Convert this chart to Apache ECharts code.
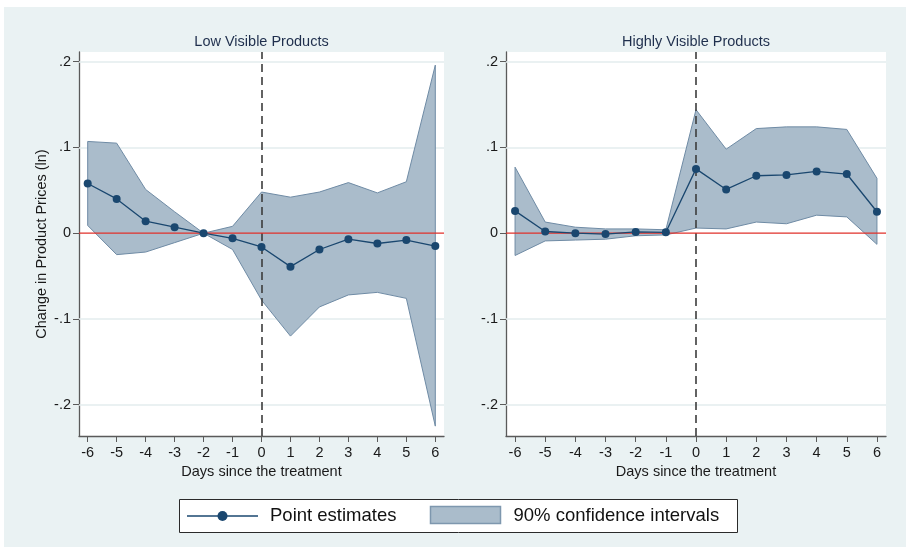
<!DOCTYPE html>
<html>
<head>
<meta charset="utf-8">
<script src="https://cdn.jsdelivr.net/npm/echarts@6/dist/echarts.min.js"></script>
<style>
  html, body { margin: 0; padding: 0; background: #ffffff; }
  #chart { width: 906px; height: 547px; }
</style>
</head>
<body>
<div id="chart"></div>
<script>
// Event-study estimates by day relative to treatment
const days = [-6, -5, -4, -3, -2, -1, 0, 1, 2, 3, 4, 5, 6];

// Low visible products
const lowEst   = [0.058, 0.040, 0.014, 0.007, 0.000, -0.006, -0.016, -0.039, -0.019, -0.007, -0.012, -0.008, -0.015];
const lowUpper = [0.107, 0.105, 0.051, 0.025, 0.000, 0.008, 0.048, 0.042, 0.048, 0.059, 0.047, 0.060, 0.196];
const lowLower = [0.009, -0.025, -0.022, -0.011, 0.000, -0.019, -0.078, -0.120, -0.086, -0.072, -0.069, -0.076, -0.225];

// Highly visible products
const highEst   = [0.026, 0.002, 0.000, -0.001, 0.0015, 0.001, 0.075, 0.051, 0.067, 0.068, 0.072, 0.069, 0.025];
const highUpper = [0.077, 0.013, 0.007, 0.005, 0.005, 0.004, 0.144, 0.098, 0.122, 0.124, 0.124, 0.121, 0.064];
const highLower = [-0.026, -0.009, -0.008, -0.007, -0.003, -0.002, 0.006, 0.005, 0.013, 0.011, 0.021, 0.019, -0.013];

// Axis ticks and ranges
const yTicks = [-0.2, -0.1, 0, 0.1, 0.2];
const xTicks = days;
const xRange = [-6.3, 6.3];
const yRange = [-0.2365, 0.2113];
const panelTitles = ['Low Visible Products', 'Highly Visible Products'];
const xTitle = 'Days since the treatment';
const yTitle = 'Change in Product Prices (ln)';
const legendLabels = ['Point estimates', '90% confidence intervals'];

const FONT = '"Liberation Sans", Arial, sans-serif';
const NAVY = '#1a476f';
const AXIS = '#5a5a5a';

function fmtY(v) {
  if (Math.abs(v) < 1e-9) return '0';
  return (v < 0 ? '-' : '') + Math.abs(v).toFixed(1).replace(/^0/, '');
}

const grids = [
  { left: 79, top: 52, width: 365, height: 384 },
  { left: 506, top: 52, width: 380, height: 384 }
];

function xAxisFor(i) {
  return {
    type: 'value', gridIndex: i, min: xRange[0], max: xRange[1],
    axisLine: { show: true, onZero: false, lineStyle: { color: AXIS, width: 1.3 } },
    axisTick: { show: true, customValues: xTicks, length: 6, lineStyle: { color: AXIS, width: 1 } },
    axisLabel: { customValues: xTicks, margin: 9, fontSize: 14.5, color: '#1a1a1a', fontFamily: FONT,
                 formatter: v => String(v) },
    splitLine: { show: false },
    name: xTitle, nameLocation: 'middle', nameGap: 23,
    nameTextStyle: { fontSize: 14.5, color: '#1a1a1a', fontFamily: FONT }
  };
}

function yAxisFor(i) {
  const ax = {
    type: 'value', gridIndex: i, min: yRange[0], max: yRange[1],
    axisLine: { show: true, onZero: false, lineStyle: { color: AXIS, width: 1.3 } },
    axisTick: { show: true, customValues: yTicks, length: 6, lineStyle: { color: AXIS, width: 1 } },
    axisLabel: { customValues: yTicks, margin: 8, fontSize: 14.5, color: '#1a1a1a', fontFamily: FONT,
                 formatter: fmtY },
    splitLine: { show: false }
  };
  if (i === 0) {
    ax.name = yTitle;
    ax.nameLocation = 'middle';
    ax.nameGap = 30;
    ax.nameTextStyle = { fontSize: 14.5, color: '#1a1a1a', fontFamily: FONT };
  }
  return ax;
}

function refLine(i, z, data, lineStyle) {
  return {
    type: 'line', xAxisIndex: i, yAxisIndex: i, data: [], z: z, silent: true,
    markLine: {
      z: z, silent: true, symbol: ['none', 'none'], label: { show: false }, animation: false,
      lineStyle: lineStyle, emphasis: { disabled: true },
      data: data
    }
  };
}

// Light horizontal grid lines, red zero line and dashed treatment line
function guideSeries(i) {
  return [
    refLine(i, 1, yTicks.filter(v => v !== 0).map(v => ({ yAxis: v })),
            { color: '#e3ecee', width: 1.5, type: 'solid' }),
    {
      type: 'line', xAxisIndex: i, yAxisIndex: i, z: 3, silent: true,
      data: xRange.map(x => [x, 0]),
      symbol: 'none', lineStyle: { color: '#e0302a', width: 1.3 },
      itemStyle: { color: '#e0302a' }, emphasis: { disabled: true }
    },
    refLine(i, 3, [{ xAxis: 0 }], { color: '#3c3c3c', width: 1.6, type: [8, 5] })
  ];
}

// Confidence band as a closed polygon through the axis scales
function bandSeries(i, lower, upper) {
  return {
    type: 'custom', name: legendLabels[1], xAxisIndex: i, yAxisIndex: i, z: 2, silent: true,
    data: days.map((d, k) => [d, lower[k], upper[k]]),
    encode: { x: 0, y: [1, 2] },
    renderItem: function (params, api) {
      if (params.dataIndex !== 0) return null;
      const pts = [];
      for (let k = 0; k < days.length; k++) pts.push(api.coord([days[k], upper[k]]));
      for (let k = days.length - 1; k >= 0; k--) pts.push(api.coord([days[k], lower[k]]));
      return {
        type: 'polygon',
        shape: { points: pts },
        style: { fill: '#aabccb', stroke: '#6f8ba5', lineWidth: 1 }
      };
    }
  };
}

function pointSeries(i, est) {
  return {
    type: 'line', name: legendLabels[0], xAxisIndex: i, yAxisIndex: i, z: 5,
    data: days.map((d, k) => [d, est[k]]),
    symbol: 'circle', symbolSize: 8, showAllSymbol: true,
    lineStyle: { color: NAVY, width: 1.3 },
    itemStyle: { color: NAVY }
  };
}

const chart = echarts.init(document.getElementById('chart'), null, { renderer: 'canvas' });

const option = {
  animation: false,
  backgroundColor: '#eaf2f3',
  grid: grids.map(g => Object.assign({ show: true, backgroundColor: '#ffffff', borderWidth: 0,
                                        containLabel: false, outerBoundsMode: 'none' }, g)),
  xAxis: [xAxisFor(0), xAxisFor(1)],
  yAxis: [yAxisFor(0), yAxisFor(1)],
  series: [
    ...guideSeries(0), bandSeries(0, lowLower, lowUpper), pointSeries(0, lowEst),
    ...guideSeries(1), bandSeries(1, highLower, highUpper), pointSeries(1, highEst)
  ],
  graphic: [
    // white margin strips at top and left
    { type: 'rect', left: 0, top: 0, shape: { width: 906, height: 7 }, style: { fill: '#ffffff' }, z: -1, silent: true },
    { type: 'rect', left: 0, top: 0, shape: { width: 4, height: 547 }, style: { fill: '#ffffff' }, z: -1, silent: true },
    // panel titles
    { type: 'text', x: 261.5, y: 42, silent: true,
      style: { text: panelTitles[0], fill: '#1f2f4d', font: '14.5px ' + FONT, align: 'center', verticalAlign: 'middle' } },
    { type: 'text', x: 696, y: 42, silent: true,
      style: { text: panelTitles[1], fill: '#1f2f4d', font: '14.5px ' + FONT, align: 'center', verticalAlign: 'middle' } },
    // legend
    { type: 'group', z: 100, silent: true, children: [
      { type: 'rect', shape: { x: 179.5, y: 499.5, width: 558, height: 33 },
        style: { fill: '#ffffff', stroke: '#2a2a2a', lineWidth: 1 } },
      { type: 'line', shape: { x1: 187, y1: 516, x2: 258, y2: 516 },
        style: { stroke: NAVY, lineWidth: 1.3 } },
      { type: 'circle', shape: { cx: 222.5, cy: 516, r: 5 }, style: { fill: NAVY } },
      { type: 'text', x: 270, y: 516,
        style: { text: legendLabels[0], fill: '#111111', font: '18.5px ' + FONT, verticalAlign: 'middle' } },
      { type: 'rect', shape: { x: 430.5, y: 506.5, width: 70, height: 17 },
        style: { fill: '#aabccb', stroke: '#7e97ae', lineWidth: 1.5 } },
      { type: 'text', x: 513.5, y: 516,
        style: { text: legendLabels[1], fill: '#111111', font: '18.5px ' + FONT, verticalAlign: 'middle' } }
    ] }
  ]
};

chart.setOption(option);
</script>
</body>
</html>
